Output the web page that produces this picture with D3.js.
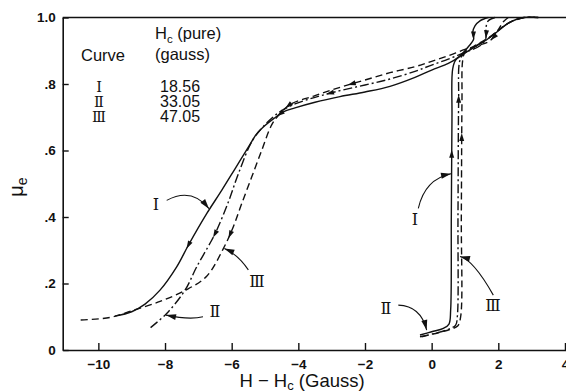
<!DOCTYPE html>
<html>
<head>
<meta charset="utf-8">
<script src="https://cdn.jsdelivr.net/npm/d3@7"></script>
<style>
  body { margin: 0; background: #fff; }
  svg { display: block; }
  text { fill: #111; }
</style>
</head>
<body>
<script>
// Effective permeability μe against H − Hc for three samples (descending and ascending branches)

const curveNames = ["Ⅰ", "Ⅱ", "Ⅲ"];
const hcPure = ["18.56", "33.05", "47.05"];
const xTicks = [-10, -8, -6, -4, -2, 0, 2, 4];
const xTickLabels = ["−10", "−8", "−6", "−4", "−2", "0", "2", "4"];
const yTicks = [0, 0.2, 0.4, 0.6, 0.8, 1.0];
const yTickLabels = ["0", ".2", ".4", ".6", ".8", "1.0"];

// Curve I (solid)
const curveIDown = [[1.7,1.0],[1.45,0.99],[1.3,0.975],[1.23,0.955],[1.26,0.935],[1.1,0.912],[0.8,0.88],[0.5,0.862],[0.0,0.842],[-0.5,0.82],[-1.25,0.793],[-2.0,0.776],[-2.75,0.762],[-3.5,0.745],[-4.1,0.728],[-4.45,0.716],[-4.75,0.695],[-5.0,0.675],[-5.25,0.65],[-5.5,0.61],[-5.9,0.545],[-6.3,0.48],[-6.75,0.41],[-7.3,0.315],[-7.65,0.25],[-8.15,0.18],[-8.6,0.138],[-9.0,0.115],[-9.5,0.102]];
const curveIUp = [[-0.35,0.045],[0.0,0.055],[0.35,0.065],[0.52,0.078],[0.57,0.12],[0.59,0.4],[0.61,0.7],[0.63,0.845],[0.72,0.872],[0.95,0.89],[1.35,0.915],[1.75,0.94],[2.1,0.968],[2.35,0.986],[2.75,1.0],[3.2,1.0]];

// Curve II (dash-dot)
const curveIIDown = [[1.9,1.0],[1.7,0.99],[1.63,0.97],[1.62,0.935],[1.45,0.915],[1.0,0.895],[0.5,0.875],[0.0,0.857],[-0.5,0.838],[-1.25,0.815],[-2.0,0.797],[-2.75,0.78],[-3.5,0.76],[-4.1,0.74],[-4.5,0.72],[-4.8,0.697],[-5.1,0.667],[-5.4,0.626],[-5.8,0.53],[-6.1,0.445],[-6.45,0.36],[-6.6,0.33],[-7.05,0.25],[-7.4,0.18],[-7.95,0.11],[-8.45,0.066]];
const curveIIUp = [[-0.35,0.04],[0.1,0.05],[0.5,0.062],[0.72,0.075],[0.77,0.1],[0.79,0.4],[0.81,0.75],[0.84,0.868],[0.95,0.89],[1.35,0.916],[1.75,0.941],[2.1,0.969],[2.37,0.987],[2.78,1.0],[3.2,1.0]];

// Curve III (dashed)
const curveIIIDown = [[2.3,1.0],[2.15,0.987],[1.95,0.955],[1.75,0.93],[1.4,0.916],[1.0,0.904],[0.5,0.885],[0.0,0.868],[-0.5,0.852],[-1.25,0.834],[-2.0,0.812],[-2.75,0.79],[-3.5,0.765],[-4.25,0.738],[-4.6,0.705],[-4.8,0.677],[-5.1,0.6],[-5.4,0.52],[-5.7,0.44],[-5.95,0.371],[-6.25,0.305],[-6.75,0.222],[-7.4,0.179],[-8.15,0.146],[-9.0,0.118],[-9.65,0.098],[-10.55,0.09]];
const curveIIIUp = [[-0.3,0.04],[0.2,0.052],[0.55,0.062],[0.78,0.072],[0.87,0.1],[0.89,0.4],[0.91,0.75],[0.93,0.87],[1.0,0.895],[1.35,0.918],[1.75,0.942],[2.1,0.97],[2.4,0.988],[2.8,1.0],[3.2,1.0]];

const W = 566, H = 392;
const svg = d3.select("body").append("svg").attr("width", W).attr("height", H);

const x = d3.scaleLinear().domain([-11.07, 4.1]).range([62.7, 568.3]);
const y = d3.scaleLinear().domain([0, 1]).range([350, 17.5]);

const font = "'Liberation Sans', Arial, sans-serif";
const romanFont = "'DejaVu Serif', serif";

// Axes: ticks point into the plot
const xAxis = d3.axisBottom(x).tickValues(xTicks)
  .tickFormat((d, i) => xTickLabels[i]).tickSize(-7).tickSizeOuter(0).tickPadding(9);
const gx = svg.append("g").attr("transform", `translate(0,${y(0)})`).call(xAxis);
gx.select(".domain").attr("stroke", "#111").attr("stroke-width", 1.6);
gx.selectAll(".tick line").attr("stroke", "#111").attr("stroke-width", 1.4);
gx.selectAll(".tick text").attr("font-family", font).attr("font-size", 13.5)
  .attr("font-weight", "bold").attr("fill", "#111");

const yAxis = d3.axisLeft(y).tickValues(yTicks)
  .tickFormat((d, i) => yTickLabels[i]).tickSize(-6).tickSizeOuter(0).tickPadding(7);
const gy = svg.append("g").attr("transform", `translate(${x.range()[0]},0)`).call(yAxis);
gy.select(".domain").attr("stroke", "#111").attr("stroke-width", 1.6);
gy.selectAll(".tick line").attr("stroke", "#111").attr("stroke-width", 1.4);
gy.selectAll(".tick text").attr("font-family", font).attr("font-size", 13.5)
  .attr("font-weight", "bold").attr("fill", "#111");

// top border
svg.append("line").attr("x1", x.range()[0]).attr("x2", W).attr("y1", y(1)).attr("y2", y(1))
  .attr("stroke", "#111").attr("stroke-width", 1.6);

// Curves
const line = d3.line().x(d => x(d[0])).y(d => y(d[1])).curve(d3.curveCatmullRom.alpha(0.5));
const styles = {
  I: { dash: null },
  II: { dash: "9,3,2,3" },
  III: { dash: "7,4" }
};
const branches = {
  "I-down": { data: curveIDown, s: "I" },
  "I-up": { data: curveIUp, s: "I" },
  "II-down": { data: curveIIDown, s: "II" },
  "II-up": { data: curveIIUp, s: "II" },
  "III-down": { data: curveIIIDown, s: "III" },
  "III-up": { data: curveIIIUp, s: "III" }
};
const gc = svg.append("g");
const nodes = {};
Object.entries(branches).forEach(([k, b]) => {
  nodes[k] = gc.append("path").attr("d", line(b.data)).attr("fill", "none")
    .attr("stroke", "#111").attr("stroke-width", 1.4)
    .attr("stroke-dasharray", styles[b.s].dash).node();
});

function arrowHead(g, tip, dir, len = 9, wid = 5.5) {
  const n = Math.hypot(dir[0], dir[1]);
  const ux = dir[0] / n, uy = dir[1] / n;
  const bx = tip[0] - ux * len, by = tip[1] - uy * len;
  const px = -uy * wid / 2, py = ux * wid / 2;
  g.append("path")
    .attr("d", `M${tip[0]},${tip[1]}L${bx + px},${by + py}L${bx - px},${by - py}Z`)
    .attr("fill", "#111");
}

// Direction arrows along the branches, located by an x or y value
const flowArrows = [
  { b: "I-down", axis: "x", v: -7.3 },
  { b: "II-down", axis: "x", v: -6.5 },
  { b: "III-down", axis: "x", v: -6.05 },
  { b: "III-down", axis: "x", v: -4.3 },
  { b: "I-down", axis: "x", v: -4.55 },
  { b: "II-down", axis: "x", v: -3.05 },
  { b: "III-down", axis: "x", v: -2.4 },
  { b: "I-up", axis: "y", v: 0.59 },
  { b: "III-up", axis: "y", v: 0.64 },
  { b: "II-up", axis: "y", v: 0.755 },
  { b: "I-down", axis: "y", v: 0.945 },
  { b: "II-down", axis: "y", v: 0.95 },
  { b: "III-down", axis: "x", v: 1.85 }
];
const ga = svg.append("g");
flowArrows.forEach(a => {
  const node = nodes[a.b];
  const total = node.getTotalLength();
  const target = a.axis === "x" ? x(a.v) : y(a.v);
  let best = 0, bestD = Infinity;
  for (let L = 0; L <= total; L += 0.5) {
    const p = node.getPointAtLength(L);
    const dd = Math.abs((a.axis === "x" ? p.x : p.y) - target);
    if (dd < bestD) { bestD = dd; best = L; }
  }
  const tipL = Math.min(total, best + 4);
  const p0 = node.getPointAtLength(Math.max(0, tipL - 3));
  const p1 = node.getPointAtLength(tipL);
  arrowHead(ga, [p1.x, p1.y], [p1.x - p0.x, p1.y - p0.y], 8, 5);
});

// Labelled pointers to the curves
const pointers = [
  { name: 0, label: [-8.27, 0.42], start: [-7.95, 0.45], ctrl: [-7.2, 0.49], end: [-6.68, 0.425] },
  { name: 2, label: [-5.24, 0.19], start: [-5.5, 0.241], ctrl: [-5.825, 0.2885], end: [-6.22, 0.305] },
  { name: 1, label: [-6.5, 0.1], start: [-6.86, 0.1], ctrl: [-7.27, 0.09], end: [-7.97, 0.105] },
  { name: 0, label: [-0.5, 0.376], start: [-0.4, 0.426], ctrl: [-0.2, 0.514], end: [0.58, 0.53] },
  { name: 1, label: [-1.37, 0.108], start: [-1.0, 0.135], ctrl: [-0.325, 0.1325], end: [-0.15, 0.06] },
  { name: 2, label: [1.84, 0.117], start: [1.85, 0.165], ctrl: [1.25, 0.271], end: [0.85, 0.281] }
];
const gp = svg.append("g");
pointers.forEach(p => {
  const s = [x(p.start[0]), y(p.start[1])];
  const c = [x(p.ctrl[0]), y(p.ctrl[1])];
  const e = [x(p.end[0]), y(p.end[1])];
  gp.append("path").attr("d", `M${s[0]},${s[1]}Q${c[0]},${c[1]} ${e[0]},${e[1]}`)
    .attr("fill", "none").attr("stroke", "#111").attr("stroke-width", 1.1);
  arrowHead(gp, e, [e[0] - c[0], e[1] - c[1]], 10, 6);
  gp.append("text").attr("x", x(p.label[0])).attr("y", y(p.label[1]))
    .attr("text-anchor", "middle").attr("font-family", romanFont).attr("font-size", 16)
    .text(curveNames[p.name]);
});

// Legend table
const gl = svg.append("g").attr("font-family", font).attr("font-size", 16.5);
gl.append("text").attr("x", 103).attr("y", 61).attr("text-anchor", "middle").text("Curve");
const hc = gl.append("text").attr("x", 155).attr("y", 39);
hc.append("tspan").text("H");
hc.append("tspan").attr("font-size", 11.5).attr("dy", 4).text("c");
hc.append("tspan").attr("dy", -4).text(" (pure)");
gl.append("text").attr("x", 155).attr("y", 60).text("(gauss)");
curveNames.forEach((n, i) => {
  gl.append("text").attr("x", 99).attr("y", 92 + i * 15).attr("text-anchor", "middle")
    .attr("font-family", romanFont).attr("font-size", 14.5).text(n);
  gl.append("text").attr("x", 160).attr("y", 92 + i * 15).attr("font-size", 16).text(hcPure[i]);
});

// Axis titles
const xt = svg.append("text").attr("x", 302).attr("y", 387).attr("text-anchor", "middle")
  .attr("font-family", font).attr("font-size", 18.5);
xt.append("tspan").text("H − H");
xt.append("tspan").attr("font-size", 13).attr("dy", 3).text("c");
xt.append("tspan").attr("dy", -3).text(" (Gauss)");

const yt = svg.append("text").attr("transform", "translate(23,187) rotate(-90)")
  .attr("text-anchor", "middle").attr("font-family", font).attr("font-size", 20);
yt.append("tspan").text("μ");
yt.append("tspan").attr("font-size", 14).attr("dy", 4).text("e");
</script>
</body>
</html>
